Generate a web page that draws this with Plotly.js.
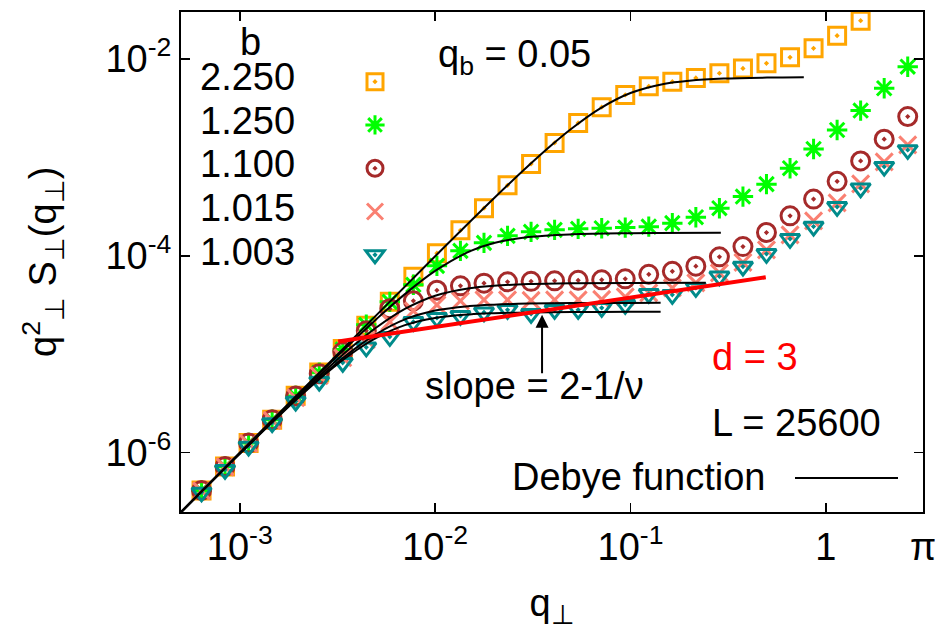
<!DOCTYPE html>
<html>
<head>
<meta charset="utf-8">
<script src="https://cdn.plot.ly/plotly-3.0.1.min.js"></script>
<style>html,body{margin:0;padding:0;background:#fff;}#chart{width:935px;height:630px;}</style>
</head>
<body>
<div id="chart"></div>
<script>
// q_perp values (shared by all data series)
const qData = [6.37e-4, 8.40e-4, 1.109e-3, 1.464e-3, 1.932e-3, 2.550e-3, 3.365e-3, 4.440e-3, 5.860e-3, 7.735e-3,
  1.021e-2, 1.347e-2, 1.778e-2, 2.347e-2, 3.097e-2, 4.087e-2, 5.395e-2, 7.120e-2, 9.397e-2, 0.1240,
  0.1637, 0.2160, 0.2851, 0.3763, 0.4966, 0.6555, 0.8650, 1.1416, 1.5066, 1.9886, 2.624];

// q^2 S(q) series, b = 2.250, 1.250, 1.100, 1.015, 1.003
const sB2250 = [4.14e-7, 7.26e-7, 1.254e-6, 2.163e-6, 3.79e-6, 6.53e-6, 1.13e-5, 1.946e-5, 3.41e-5, 6.12e-5,
  1.065e-4, 1.815e-4, 3.05e-4, 5.20e-4, 8.59e-4, 1.403e-3, 2.24e-3, 3.235e-3, 4.31e-3, 5.28e-3,
  5.88e-3, 6.41e-3, 7.16e-3, 8.01e-3, 9.04e-3, 1.04e-2, 1.284e-2, 1.724e-2, 2.45e-2];
const sB1250 = [4.14e-7, 7.26e-7, 1.254e-6, 2.163e-6, 3.77e-6, 6.50e-6, 1.12e-5, 1.993e-5, 3.41e-5, 5.08e-5,
  7.91e-5, 1.124e-4, 1.355e-4, 1.596e-4, 1.753e-4, 1.836e-4, 1.88e-4, 1.91e-4, 1.937e-4, 1.98e-4,
  2.148e-4, 2.47e-4, 3.05e-4, 4.00e-4, 5.35e-4, 7.77e-4, 1.219e-3, 1.90e-3, 2.99e-3, 5.04e-3, 8.35e-3];
const sB1100 = [4.14e-7, 7.26e-7, 1.254e-6, 2.163e-6, 3.76e-6, 6.34e-6, 1.06e-5, 1.732e-5, 2.90e-5, 3.49e-5,
  4.47e-5, 4.96e-5, 5.28e-5, 5.445e-5, 5.51e-5, 5.575e-5, 5.64e-5, 5.705e-5, 5.84e-5, 6.49e-5,
  6.96e-5, 7.86e-5, 9.77e-5, 1.242e-4, 1.725e-4, 2.55e-4, 3.77e-4, 5.71e-4, 9.21e-4, 1.531e-3, 2.60e-3];
const sB1015 = [4.10e-7, 7.18e-7, 1.24e-6, 2.13e-6, 3.62e-6, 6.05e-6, 9.22e-6, 1.403e-5, 2.137e-5, 2.764e-5,
  3.18e-5, 3.49e-5, 3.575e-5, 3.575e-5, 3.533e-5, 3.575e-5, 3.575e-5, 3.617e-5, 3.835e-5, 4.21e-5,
  4.73e-5, 5.32e-5, 6.72e-5, 8.59e-5, 1.150e-4, 1.633e-4, 2.266e-4, 3.452e-4, 5.38e-4, 9.00e-4, 1.339e-3];
const sB1003 = [3.954e-7, 6.72e-7, 1.159e-6, 2.002e-6, 3.317e-6, 5.295e-6, 8.20e-6, 1.178e-5, 1.506e-5, 2.137e-5,
  2.347e-5, 2.459e-5, 2.669e-5, 2.829e-5, 2.577e-5, 2.829e-5, 2.829e-5, 2.965e-5, 3.18e-5, 4.115e-5,
  4.02e-5, 4.73e-5, 6.19e-5, 7.79e-5, 1.048e-4, 1.488e-4, 1.984e-4, 3.145e-4, 4.87e-4, 8.06e-4, 1.192e-3];

// Debye function curves
const qDebyeA = [5e-4, 1e-3, 3e-3, 1e-2, 2e-2, 3e-2, 4e-2, 5e-2, 7e-2, 0.1, 0.15, 0.2, 0.3, 0.5, 0.771];
const debyeA  = [2.5e-7, 1e-6, 8.99e-6, 9.90e-5, 3.842e-4, 8.230e-4, 1.3686e-3, 1.9694e-3, 3.154e-3, 4.509e-3,
  5.603e-3, 6.020e-3, 6.319e-3, 6.471e-3, 6.522e-3];
const qDebyeB = [5e-4, 1e-3, 2e-3, 3e-3, 4e-3, 5e-3, 7e-3, 1e-2, 1.5e-2, 2e-2, 3e-2, 5e-2, 0.1, 0.29];
const debyeB  = [2.4976e-7, 9.961e-7, 3.938e-6, 8.693e-6, 1.5049e-5, 2.2751e-5, 4.0859e-5, 7.024e-5, 1.1084e-4,
  1.3501e-4, 1.5506e-4, 1.6550e-4, 1.6991e-4, 1.7121e-4];
const qDebyeC = [5e-4, 1e-3, 2e-3, 3e-3, 4e-3, 5e-3, 7e-3, 1e-2, 1.5e-2, 2e-2, 3e-2, 5e-2, 0.1, 0.2427];
const debyeC  = [2.4922e-7, 9.876e-7, 3.8068e-6, 8.0686e-6, 1.3224e-5, 1.8709e-5, 2.8894e-5, 3.9374e-5, 4.6905e-5,
  4.9655e-5, 5.1620e-5, 5.2626e-5, 5.3050e-5, 5.3166e-5];
const qDebyeD = [5e-4, 1e-3, 2e-3, 3e-3, 4e-3, 5e-3, 7e-3, 1e-2, 1.5e-2, 2e-2, 3e-2, 5e-2, 0.1, 0.1426];
const debyeD  = [2.4875e-7, 9.803e-7, 3.6983e-6, 7.5772e-6, 1.1906e-5, 1.6070e-5, 2.2595e-5, 2.7792e-5, 3.0864e-5,
  3.1944e-5, 3.2716e-5, 3.3111e-5, 3.3278e-5, 3.3306e-5];
const debyeE  = [2.4846e-7, 9.758e-7, 3.6331e-6, 7.2968e-6, 1.1186e-5, 1.4715e-5, 1.9772e-5, 2.3377e-5, 2.5404e-5,
  2.6114e-5, 2.6621e-5, 2.6881e-5, 2.6990e-5, 2.7009e-5];

// slope = 2 - 1/nu guide line
const qSlope = [3.19e-3, 0.4924];
const sSlope = [1.349e-5, 6.05e-5];

// labels
const legendLabels = ['2.250', '1.250', '1.100', '1.015', '1.003'];
const xTickVals = [1e-3, 1e-2, 1e-1, 1, Math.PI];
const xTickText = ['10<sup>-3</sup>', '10<sup>-2</sup>', '10<sup>-1</sup>', '1', 'π'];
const yTickVals = [1e-6, 1e-4, 1e-2];
const yTickText = ['10<sup>-6</sup>', '10<sup>-4</sup>', '10<sup>-2</sup>'];
const xTitle = 'q<sub>⊥</sub>';
const yTitle = 'q<sup>2</sup><sub>⊥</sub> S<sub>⊥</sub>(q<sub>⊥</sub>)';

const FONT = 'Liberation Sans, Arial, Helvetica, sans-serif';
const FS = 38;

const series = [
  {y: sB2250, color: '#ffa500', symbol: 'square-open-dot', size: 17},
  {y: sB1250, color: '#00ff00', symbol: 'asterisk-open', size: 17},
  {y: sB1100, color: '#a52a2a', symbol: 'circle-open-dot', size: 18},
  {y: sB1015, color: '#fa8072', symbol: 'x-thin-open', size: 17},
  {y: sB1003, color: '#008b8b', symbol: 'triangle-down-open-dot', size: 17}
];

const traces = [];
series.forEach(function (s) {
  traces.push({
    x: qData.slice(0, s.y.length), y: s.y, type: 'scatter', mode: 'markers',
    name: ' ', showlegend: true,
    marker: {symbol: s.symbol, size: s.size, color: s.color, line: {color: s.color, width: 3}}
  });
});
[[qDebyeA, debyeA], [qDebyeB, debyeB], [qDebyeC, debyeC], [qDebyeD, debyeD], [qDebyeD, debyeE]].forEach(function (c) {
  traces.push({x: c[0], y: c[1], type: 'scatter', mode: 'lines', showlegend: false,
    line: {color: 'black', width: 2, shape: 'spline'}, hoverinfo: 'skip'});
});
traces.push({x: qSlope, y: sSlope, type: 'scatter', mode: 'lines', showlegend: false,
  line: {color: '#ff0000', width: 4}});

const L = 181, T = 12, W = 742, H = 500;
function px(xp) { return (xp - L) / W; }
function py(yp) { return (T + H - yp) / H; }

const annotations = [
  {xref: 'paper', yref: 'paper', x: px(250), y: py(42), text: 'b', showarrow: false, xanchor: 'center', yanchor: 'middle'},
  {xref: 'paper', yref: 'paper', x: px(436), y: py(57), text: 'q<sub>b</sub> = 0.05', showarrow: false, xanchor: 'left', yanchor: 'middle'},
  {xref: 'paper', yref: 'paper', x: px(423), y: py(386), text: 'slope = 2-1/ν', showarrow: false, xanchor: 'left', yanchor: 'middle'},
  {xref: 'paper', yref: 'paper', x: px(710), y: py(357), text: 'd = 3', showarrow: false, xanchor: 'left', yanchor: 'middle', font: {color: '#ff0000', size: FS, family: FONT}},
  {xref: 'paper', yref: 'paper', x: px(710), y: py(423), text: 'L = 25600', showarrow: false, xanchor: 'left', yanchor: 'middle'},
  {xref: 'paper', yref: 'paper', x: px(510), y: py(477), text: 'Debye function', showarrow: false, xanchor: 'left', yanchor: 'middle'},
  {xref: 'paper', yref: 'paper', x: px(43), y: py(262), text: yTitle, textangle: -90, showarrow: false, xanchor: 'center', yanchor: 'middle'},
  {x: Math.log10(0.03525), y: Math.log10(2.52e-5), xref: 'x', yref: 'y', text: '', showarrow: true,
    ax: 0, ay: 60, arrowhead: 2, arrowsize: 1.3, arrowwidth: 2, arrowcolor: 'black'}
];
const legendY = [77, 121, 164, 208, 252];
legendLabels.forEach(function (t, i) {
  annotations.push({xref: 'paper', yref: 'paper', x: px(297), y: py(legendY[i]), text: t, showarrow: false,
    xanchor: 'right', yanchor: 'middle'});
});

const layout = {
  width: 935, height: 630,
  margin: {l: L, r: 935 - L - W, t: T, b: 630 - T - H},
  paper_bgcolor: 'white', plot_bgcolor: 'white',
  font: {family: FONT, size: FS, color: 'black'},
  showlegend: true,
  legend: {x: px(355), xanchor: 'left', y: py(55), yanchor: 'top', font: {size: 31, family: FONT},
    bgcolor: 'rgba(0,0,0,0)', borderwidth: 0, tracegroupgap: 0},
  xaxis: {type: 'log', range: [Math.log10(5e-4), 0.4972], tickvals: xTickVals, ticktext: xTickText,
    ticks: 'inside', ticklen: 9, tickwidth: 1.5, tickcolor: 'black', showline: true, linewidth: 2, linecolor: 'black',
    mirror: 'allticks', showgrid: false, zeroline: false, ticklabeloverflow: 'allow',
    title: {text: xTitle, font: {size: FS, family: FONT}, standoff: 31}},
  yaxis: {type: 'log', range: [Math.log10(2.5e-7), Math.log10(3e-2)], tickvals: yTickVals, ticktext: yTickText,
    ticks: 'inside', ticklen: 9, tickwidth: 1.5, tickcolor: 'black', showline: true, linewidth: 2, linecolor: 'black',
    mirror: 'allticks', showgrid: false, zeroline: false, ticklabeloverflow: 'allow'},
  annotations: annotations,
  shapes: [{type: 'line', xref: 'paper', yref: 'paper', x0: px(795), x1: px(898), y0: py(478), y1: py(478),
    line: {color: 'black', width: 2}}]
};

Plotly.newPlot('chart', traces, layout, {displayModeBar: false, staticPlot: true});
</script>
</body>
</html>
